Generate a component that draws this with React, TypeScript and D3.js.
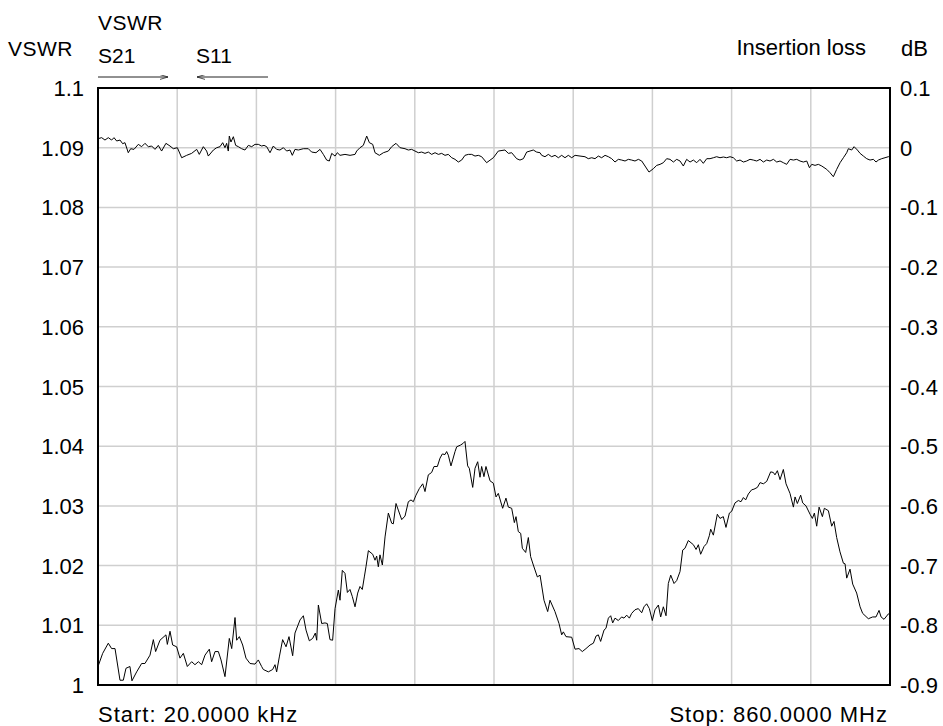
import React, { useRef, useLayoutEffect } from "react";
import * as d3 from "d3";

const W = 943;
const H = 726;

// sweep range, MHz
const startMHz = 0.02;
const stopMHz = 860;

const vswrTicks = [1, 1.01, 1.02, 1.03, 1.04, 1.05, 1.06, 1.07, 1.08, 1.09, 1.1];
const dbTicks = [-0.9, -0.8, -0.7, -0.6, -0.5, -0.4, -0.3, -0.2, -0.1, 0, 0.1];

// S11 trace, [MHz, VSWR]
const s11Points: [number, number][] = [
  [0.02, 1.0031], [5.1, 1.0053], [11.2, 1.007], [14.8, 1.0061], [18.5, 1.0061], [23.9, 1.0008],
  [27.5, 1.0008], [30.4, 1.0028], [34.7, 1.0031], [36.9, 1.0007], [42.0, 1.0022], [47.4, 1.0036],
  [51.0, 1.0036], [56.5, 1.005], [60.1, 1.0076], [62.6, 1.0056], [67.3, 1.0075], [73.8, 1.0084],
  [75.3, 1.0068], [78.2, 1.009], [81.1, 1.0067], [85.4, 1.0064], [89.0, 1.0045], [92.7, 1.0053],
  [97.0, 1.0031], [101.7, 1.0039], [105.3, 1.0034], [109.0, 1.0039], [112.6, 1.0034], [116.2, 1.005],
  [120.9, 1.006], [123.4, 1.0039], [127.1, 1.0056], [130.7, 1.0056], [133.6, 1.0042], [137.9, 1.0014],
  [142.6, 1.0078], [145.2, 1.0061], [148.8, 1.0113], [150.6, 1.0075], [153.5, 1.0081], [157.1, 1.0067],
  [160.7, 1.0045], [165.1, 1.0036], [170.5, 1.0035], [174.1, 1.0042], [177.7, 1.0031], [179.5, 1.0026],
  [185.0, 1.0022], [189.7, 1.0026], [192.2, 1.0034], [194.0, 1.0022], [196.9, 1.0047], [200.5, 1.0076],
  [204.2, 1.0064], [207.4, 1.0081], [211.4, 1.0049], [213.9, 1.0087], [219.4, 1.0109], [223.0, 1.0116],
  [225.9, 1.0092], [229.5, 1.0074], [233.1, 1.0078], [236.0, 1.0087], [237.5, 1.0075], [239.3, 1.0134],
  [242.9, 1.0103], [246.5, 1.0104], [249.0, 1.0103], [251.9, 1.0076], [254.8, 1.0075], [257.4, 1.0128],
  [261.0, 1.0159], [262.8, 1.0142], [265.3, 1.0192], [268.2, 1.0187], [270.8, 1.0155], [273.6, 1.016],
  [276.2, 1.0148], [279.1, 1.0131], [282.0, 1.0154], [284.5, 1.0165], [287.0, 1.016], [289.2, 1.0181],
  [291.0, 1.0198], [293.6, 1.0225], [298.3, 1.0219], [300.8, 1.0209], [302.6, 1.0216], [304.4, 1.0198],
  [306.2, 1.0218], [308.8, 1.0201], [311.7, 1.0248], [315.3, 1.0288], [318.9, 1.0271], [320.7, 1.027],
  [323.6, 1.0304], [326.1, 1.0293], [329.8, 1.0277], [333.4, 1.0283], [337.0, 1.0307], [339.9, 1.031],
  [342.4, 1.0307], [345.3, 1.0318], [348.9, 1.0329], [352.6, 1.0337], [355.1, 1.0324], [358.7, 1.0352],
  [362.3, 1.0356], [364.9, 1.0366], [368.5, 1.0366], [371.4, 1.038], [373.9, 1.0387], [376.8, 1.0386],
  [378.6, 1.0391], [380.4, 1.0385], [383.3, 1.0367], [387.7, 1.0391], [389.5, 1.0399], [393.8, 1.0402],
  [396.7, 1.0405], [398.5, 1.0408], [401.4, 1.0367], [403.2, 1.0363], [406.9, 1.0331], [409.4, 1.0363],
  [412.3, 1.0374], [414.8, 1.0348], [416.6, 1.0366], [419.1, 1.0349], [421.3, 1.0366], [425.7, 1.0342],
  [429.3, 1.0338], [432.2, 1.0315], [434.7, 1.0321], [439.4, 1.0296], [443.0, 1.0313], [445.6, 1.0298],
  [449.2, 1.0296], [452.1, 1.0272], [453.9, 1.0282], [456.4, 1.0257], [459.0, 1.0254], [460.8, 1.0229],
  [464.4, 1.0222], [467.3, 1.0247], [469.8, 1.0215], [472.7, 1.0201], [477.1, 1.0181], [480.0, 1.0184],
  [484.3, 1.0142], [488.3, 1.0123], [490.8, 1.0142], [496.2, 1.0123], [500.6, 1.0103], [503.5, 1.0084],
  [505.3, 1.0089], [508.2, 1.0081], [514.4, 1.008], [518.0, 1.006], [522.3, 1.0061], [525.9, 1.0056],
  [529.9, 1.0061], [534.3, 1.0067], [537.9, 1.007], [540.8, 1.0082], [543.3, 1.0084], [545.8, 1.0073],
  [549.5, 1.0092], [551.6, 1.0095], [554.2, 1.0112], [556.7, 1.0116], [558.9, 1.0104], [561.4, 1.0112],
  [565.0, 1.0108], [568.6, 1.0114], [571.2, 1.0112], [574.1, 1.0117], [577.0, 1.0112], [579.5, 1.012],
  [583.1, 1.0126], [586.7, 1.0128], [590.4, 1.0121], [592.9, 1.0131], [595.8, 1.0136], [598.7, 1.0128],
  [601.9, 1.0108], [604.8, 1.0126], [608.5, 1.0134], [611.0, 1.0114], [613.9, 1.0131], [616.8, 1.0116],
  [619.3, 1.017], [621.9, 1.0184], [625.5, 1.017], [628.4, 1.0175], [632.0, 1.019], [634.9, 1.0226],
  [637.4, 1.0229], [641.0, 1.0242], [646.5, 1.0235], [649.4, 1.0227], [651.9, 1.0235], [654.4, 1.0219],
  [658.1, 1.0232], [661.0, 1.0237], [663.8, 1.025], [665.3, 1.0261], [668.2, 1.0251], [672.5, 1.0286],
  [675.4, 1.0279], [679.0, 1.0282], [681.9, 1.0264], [685.6, 1.0288], [688.1, 1.0291], [691.7, 1.0305],
  [695.3, 1.0309], [698.2, 1.0307], [700.8, 1.0314], [703.3, 1.031], [706.2, 1.032], [709.8, 1.0327],
  [712.3, 1.0328], [716.0, 1.0331], [718.9, 1.0339], [722.5, 1.0337], [726.1, 1.0341], [730.4, 1.0357],
  [733.3, 1.0356], [735.1, 1.0352], [737.7, 1.0359], [740.6, 1.0344], [744.2, 1.0361], [747.1, 1.0337],
  [751.4, 1.0321], [755.1, 1.0298], [756.9, 1.0315], [759.4, 1.0304], [763.0, 1.0318], [765.2, 1.0305],
  [768.8, 1.03], [773.2, 1.0286], [775.7, 1.0279], [777.9, 1.0288], [780.4, 1.0266], [783.0, 1.0298],
  [786.6, 1.0282], [788.7, 1.0296], [793.1, 1.0292], [796.7, 1.0266], [799.2, 1.0274], [802.1, 1.0247],
  [805.7, 1.0223], [809.4, 1.0204], [811.2, 1.0203], [813.0, 1.0179], [816.6, 1.0194], [819.5, 1.0169],
  [823.8, 1.0154], [827.5, 1.0131], [830.3, 1.012], [836.5, 1.0111], [841.2, 1.0114], [844.8, 1.0114],
  [848.1, 1.0125], [850.3, 1.0114], [853.5, 1.011], [858.2, 1.0119], [860, 1.0121],
];

// S21 trace, [MHz, dB]
const s21Points: [number, number][] = [
  [0.02, 0.0151], [4.0, 0.0168], [7.6, 0.0128], [11.2, 0.0168], [14.8, 0.0128], [17.4, 0.0168],
  [20.3, 0.0112], [23.9, 0.0128], [26.8, 0.0067], [29.3, 0.0084], [32.9, -0.0084], [35.5, -0.0017],
  [39.1, -0.0028], [43.8, 0.0056], [47.4, 0.0017], [51.0, 0.0073], [54.7, 0.0017], [58.3, 0.0028],
  [61.9, -0.0028], [65.5, 0.0039], [69.1, -0.0056], [73.8, 0.0073], [78.2, 0.0028], [81.8, -0.0017],
  [86.2, 0], [90.9, -0.0168], [96.3, -0.0128], [101.7, -0.0095], [107.2, -0.0028], [110.0, -0.0112],
  [114.4, 0.0017], [118.0, -0.0056], [119.8, -0.014], [125.3, -0.0039], [128.9, 0], [132.5, 0.0017],
  [135.4, 0.0084], [137.9, 0], [139.7, 0.0073], [141.5, -0.0056], [142.6, 0.0195], [144.4, 0.0095],
  [147.0, 0.0184], [149.5, 0.0039], [152.4, 0.0017], [156.0, -0.0017], [159.6, -0.0039], [163.3, 0.0039],
  [166.9, 0.0017], [170.5, 0.0056], [174.1, 0.0056], [177.7, 0.0028], [180.3, 0.0039], [183.2, 0.0017],
  [186.8, -0.0084], [190.4, 0.0028], [194.0, -0.0028], [197.6, -0.0039], [201.3, 0], [204.9, -0.0056],
  [208.5, -0.0039], [211.0, -0.0128], [213.9, -0.0028], [217.6, -0.0039], [223.0, -0.0017], [228.4, -0.0017],
  [232.0, -0.0073], [236.7, -0.0084], [241.1, -0.0028], [244.7, -0.0112], [248.3, -0.0207], [251.2, -0.0223],
  [253.8, -0.0095], [257.4, -0.014], [259.9, -0.0084], [262.8, -0.0128], [268.2, -0.0112], [273.7, -0.0128],
  [279.1, -0.0112], [280.9, -0.0056], [284.5, 0], [288.1, 0.0039], [291.8, 0.0195], [294.7, 0.0084],
  [298.3, 0.0056], [300.8, -0.0084], [305.5, -0.0128], [309.9, -0.0084], [315.3, -0.0056], [318.9, 0.0017],
  [323.6, 0.0073], [328.0, 0], [333.4, -0.0017], [337.0, -0.0039], [340.6, -0.0028], [344.2, -0.0056],
  [347.9, -0.0084], [351.5, -0.0073], [355.1, -0.0095], [358.7, -0.0073], [362.3, -0.0112], [366.0, -0.0084],
  [369.6, -0.0112], [373.2, -0.0095], [376.8, -0.0128], [380.4, -0.0112], [384.1, -0.0168], [387.7, -0.0195],
  [391.3, -0.024], [394.9, -0.0207], [398.5, -0.0128], [402.2, -0.0112], [405.8, -0.0112], [409.4, -0.014],
  [413.0, -0.0128], [416.6, -0.0151], [422.0, -0.0251], [429.3, -0.0168], [434.7, -0.0056], [441.9, -0.0039],
  [445.6, -0.0095], [449.2, -0.0084], [454.6, -0.0184], [458.2, -0.0207], [461.9, -0.0184], [465.5, -0.0073],
  [469.1, -0.0056], [472.7, -0.0039], [476.3, -0.0073], [480.0, -0.0084], [481.8, -0.0128], [485.4, -0.0151],
  [489.0, -0.0112], [492.6, -0.0151], [496.3, -0.0128], [499.9, -0.0168], [503.5, -0.0128], [507.1, -0.0168],
  [510.7, -0.0128], [514.4, -0.0168], [518.0, -0.0128], [523.4, -0.014], [528.8, -0.0151], [532.4, -0.0184],
  [536.1, -0.0168], [539.7, -0.0184], [543.3, -0.014], [546.9, -0.0168], [550.6, -0.0128], [554.2, -0.0151],
  [557.8, -0.0184], [561.4, -0.024], [565.0, -0.0195], [568.7, -0.0207], [572.3, -0.0223], [575.9, -0.0195],
  [579.5, -0.0207], [583.1, -0.0223], [586.8, -0.0195], [590.4, -0.0223], [594.0, -0.0307], [598.3, -0.0408],
  [603.0, -0.0352], [606.7, -0.0296], [610.3, -0.0279], [613.9, -0.0251], [617.5, -0.0184], [621.1, -0.0195],
  [624.8, -0.024], [628.4, -0.0195], [632.0, -0.0223], [635.6, -0.0307], [639.2, -0.0195], [642.9, -0.024],
  [646.5, -0.0207], [650.1, -0.0251], [653.7, -0.0195], [657.3, -0.0262], [661.0, -0.0184], [664.6, -0.0184],
  [668.2, -0.0168], [671.8, -0.0151], [675.4, -0.0168], [679.1, -0.0156], [682.7, -0.0168], [686.3, -0.0151],
  [689.9, -0.0168], [693.5, -0.0223], [697.2, -0.0207], [700.8, -0.024], [704.4, -0.0223], [708.0, -0.0195],
  [711.6, -0.0207], [715.3, -0.0223], [718.9, -0.0195], [722.5, -0.024], [726.1, -0.0207], [729.7, -0.0223],
  [733.4, -0.0195], [737.0, -0.024], [740.6, -0.0223], [744.2, -0.0251], [747.8, -0.0279], [751.5, -0.0195],
  [755.1, -0.0207], [758.7, -0.0195], [762.3, -0.0223], [765.9, -0.024], [769.6, -0.0223], [772.5, -0.0335],
  [775.0, -0.0279], [778.6, -0.0296], [782.2, -0.0279], [785.9, -0.0307], [791.3, -0.0363], [794.9, -0.0419],
  [798.5, -0.0486], [802.1, -0.0363], [805.8, -0.0251], [809.4, -0.0168], [813.0, -0.0084], [814.8, -0.0017],
  [818.4, -0.0039], [821.0, 0.0017], [824.6, -0.0039], [827.5, -0.0095], [831.1, -0.014], [834.7, -0.0184],
  [838.3, -0.0207], [842.0, -0.0195], [844.8, -0.024], [847.4, -0.0207], [851.0, -0.0184], [854.6, -0.0168],
  [858.2, -0.0151], [860, -0.0145],
];

const FONT = "'Liberation Sans', Arial, sans-serif";

export default function App() {
  const svgRef = useRef<SVGSVGElement | null>(null);

  useLayoutEffect(() => {
    const svg = svgRef.current;
    if (!svg) return;
    const M = { l: 98, r: 53, t: 88, b: 41 };

    const x = d3.scaleLinear().domain([startMHz, stopMHz]).range([M.l, W - M.r]);
    const y = d3.scaleLinear().domain([1, 1.1]).range([H - M.b, M.t]);
    const yDb = d3.scaleLinear().domain([-0.9, 0.1]).range([H - M.b, M.t]);

    const sel = d3.select(svg);
    sel.selectAll("*").remove();
    sel.append("rect").attr("width", W).attr("height", H).attr("fill", "#fff");

    const defs = sel.append("defs");
    defs
      .append("marker")
      .attr("id", "arr")
      .attr("viewBox", "0 0 10 6")
      .attr("refX", 10)
      .attr("refY", 3)
      .attr("markerWidth", 8)
      .attr("markerHeight", 5)
      .attr("orient", "auto")
      .attr("markerUnits", "userSpaceOnUse")
      .append("path")
      .attr("d", "M0,0 L10,3 L0,6")
      .attr("fill", "none")
      .attr("stroke", "#222")
      .attr("stroke-width", 1);

    // grid: 10 divisions each way
    const xGrid = d3.range(1, 10).map((i) => startMHz + ((stopMHz - startMHz) * i) / 10);
    sel
      .append("g")
      .selectAll("line")
      .data(xGrid)
      .enter()
      .append("line")
      .attr("x1", (d) => x(d))
      .attr("x2", (d) => x(d))
      .attr("y1", M.t)
      .attr("y2", H - M.b)
      .attr("stroke", "#cfcfcf")
      .attr("stroke-width", 1.5);

    sel
      .append("g")
      .selectAll("line")
      .data(vswrTicks.slice(1, -1))
      .enter()
      .append("line")
      .attr("x1", M.l)
      .attr("x2", W - M.r)
      .attr("y1", (d) => y(d))
      .attr("y2", (d) => y(d))
      .attr("stroke", "#cfcfcf")
      .attr("stroke-width", 1.5);

    const line = d3
      .line<[number, number]>()
      .x((d) => x(d[0]))
      .y((d) => y(d[1]));
    const lineDb = d3
      .line<[number, number]>()
      .x((d) => x(d[0]))
      .y((d) => yDb(d[1]));

    sel
      .append("path")
      .attr("d", lineDb(s21Points))
      .attr("fill", "none")
      .attr("stroke", "#000")
      .attr("stroke-width", 1);

    sel
      .append("path")
      .attr("d", line(s11Points))
      .attr("fill", "none")
      .attr("stroke", "#000")
      .attr("stroke-width", 1);

    // frame
    sel
      .append("rect")
      .attr("x", M.l)
      .attr("y", M.t)
      .attr("width", W - M.r - M.l)
      .attr("height", H - M.b - M.t)
      .attr("fill", "none")
      .attr("stroke", "#000")
      .attr("stroke-width", 2);

    const txt = (tx: number, ty: number, s: string, anchor = "start", fs = 21, ls = 0) =>
      sel
        .append("text")
        .attr("x", tx)
        .attr("y", ty)
        .attr("text-anchor", anchor)
        .attr("font-family", FONT)
        .attr("font-size", fs)
        .attr("letter-spacing", ls)
        .attr("fill", "#000")
        .text(s);

    const fmt = (t: number) => String(Math.round(t * 100) / 100);
    vswrTicks.forEach((t) => {
      txt(M.l - 14, y(t) + 8, fmt(t), "end", 22);
    });
    dbTicks.forEach((t) => {
      txt(W - M.r + 10, yDb(t) + 8, fmt(t), "start", 22);
    });

    txt(8, 56, "VSWR", "start", 21, 0.5);
    txt(98, 30, "VSWR", "start", 21, 0.5);
    txt(98, 63, "S21");
    txt(196, 63, "S11");
    txt(866, 55, "Insertion loss", "end", 22);
    txt(928, 56, "dB", "end", 22);
    txt(98, 722, "Start: 20.0000 kHz", "start", 22, 1);
    txt(888, 722, "Stop: 860.0000 MHz", "end", 22, 1);

    sel
      .append("line")
      .attr("x1", 98)
      .attr("x2", 168)
      .attr("y1", 77)
      .attr("y2", 77)
      .attr("stroke", "#222")
      .attr("stroke-width", 1)
      .attr("marker-end", "url(#arr)");
    sel
      .append("line")
      .attr("x1", 268)
      .attr("x2", 197)
      .attr("y1", 77)
      .attr("y2", 77)
      .attr("stroke", "#222")
      .attr("stroke-width", 1)
      .attr("marker-end", "url(#arr)");
  }, []);

  return (
    <svg
      ref={svgRef}
      width={W}
      height={H}
      style={{ position: "absolute", left: 0, top: 0, display: "block" }}
    />
  );
}
